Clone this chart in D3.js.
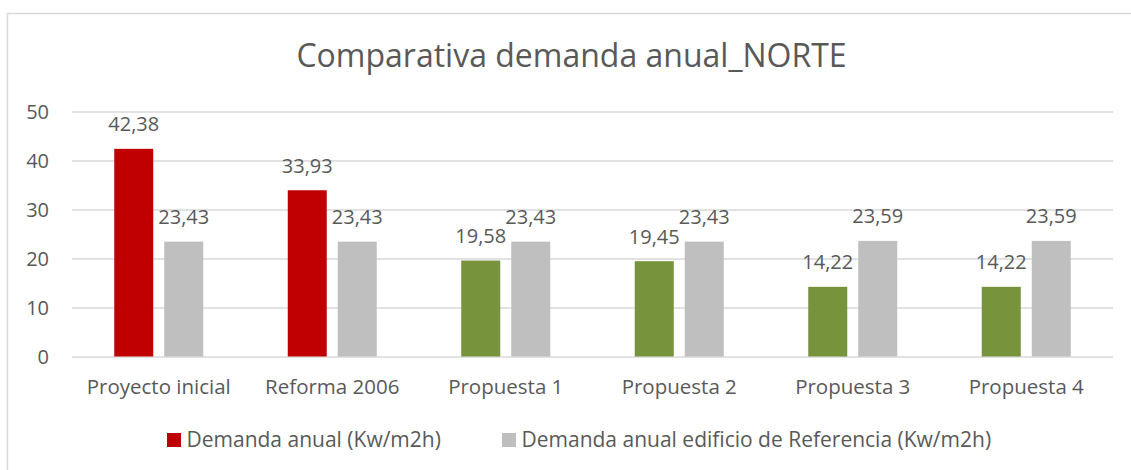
<!DOCTYPE html>
<html lang="es">
<head>
  <meta charset="UTF-8">
  <title>Comparativa demanda anual_NORTE</title>
  <style>
    body { margin: 0; background: #fff; }
    svg { display: block; }
    text { font-family: 'Open Sans', sans-serif; fill: #595959; }
  </style>
</head>
<body>
  <div id="chart"></div>

  <script src="https://d3js.org/d3.v7.min.js"></script>

  <script>
    // datos
    const categories = ['Proyecto inicial', 'Reforma 2006', 'Propuesta 1', 'Propuesta 2', 'Propuesta 3', 'Propuesta 4'];
    const demanda = [42.38, 33.93, 19.58, 19.45, 14.22, 14.22];
    const referencia = [23.43, 23.43, 23.43, 23.43, 23.59, 23.59];
    const seriesNames = ['Demanda anual (Kw/m2h)', 'Demanda anual edificio de Referencia (Kw/m2h)'];
    const yTicks = [0, 10, 20, 30, 40, 50];

    // colores
    const demandaColors = ['#C00000', '#C00000', '#77933C', '#77933C', '#77933C', '#77933C'];
    const refColor = '#BFBFBF';
    const legendColors = ['#C00000', refColor];

    const width = 1131, height = 470;
    const margin = { left: 72, right: 18, top: 111.5, bottom: 113.5 };

    const svg = d3.select('#chart').append('svg')
      .attr('width', width)
      .attr('height', height);

    // marco
    svg.append('rect')
      .attr('x', 7.5).attr('y', 13.5)
      .attr('width', 1140).attr('height', 480)
      .attr('fill', 'none')
      .attr('stroke', '#d9d9d9')
      .attr('stroke-width', 1.5);

    svg.append('text')
      .attr('x', 571.5).attr('y', 67)
      .attr('text-anchor', 'middle')
      .style('font-size', '32px')
      .text('Comparativa demanda anual_NORTE');

    const x0 = d3.scaleBand()
      .domain(categories)
      .range([margin.left, width - margin.right]);

    const x1 = d3.scaleBand()
      .domain([0, 1])
      .range([x0.bandwidth() / 2 - 44.5, x0.bandwidth() / 2 + 44.5])
      .paddingInner(0.22);

    const y = d3.scaleLinear()
      .domain([0, 50])
      .range([height - margin.bottom, margin.top]);

    const fmt = d3.formatLocale({ decimal: ',', thousands: '.', grouping: [3], currency: ['', '€'] }).format('.2f');

    // eje y + rejilla
    const yAxis = svg.append('g')
      .attr('transform', `translate(${margin.left},0)`)
      .call(d3.axisLeft(y).tickValues(yTicks).tickSize(-(width - margin.left - margin.right)).tickPadding(23).tickFormat(d3.format('d')));
    yAxis.select('.domain').remove();
    yAxis.selectAll('line').attr('stroke', '#d9d9d9').attr('stroke-width', 1.5);
    yAxis.selectAll('text')
      .style('font-size', '20px')
      .style('font-family', "'Open Sans', sans-serif")
      .attr('fill', '#595959')
      .attr('dy', '0.35em');

    // eje x
    const xAxis = svg.append('g')
      .attr('transform', `translate(0,${y(0)})`)
      .call(d3.axisBottom(x0).tickSize(0).tickPadding(23));
    xAxis.select('.domain').remove();
    xAxis.selectAll('text')
      .style('font-size', '20.5px')
      .style('font-family', "'Open Sans', sans-serif")
      .attr('fill', '#595959')
      .attr('dy', null)
      .attr('y', 37.5);

    const rows = categories.map((c, i) => ({ cat: c, vals: [demanda[i], referencia[i]], i }));

    const groups = svg.append('g').selectAll('g')
      .data(rows)
      .join('g')
      .attr('transform', d => `translate(${x0(d.cat)},0)`);

    const cells = groups.selectAll('g.cell')
      .data(d => d.vals.map((v, s) => ({ v, s, i: d.i })))
      .join('g')
      .attr('class', 'cell');

    cells.append('rect')
      .attr('x', d => x1(d.s))
      .attr('width', x1.bandwidth())
      .attr('y', d => y(d.v))
      .attr('height', d => y(0) - y(d.v))
      .attr('fill', d => d.s === 0 ? demandaColors[d.i] : refColor);

    cells.append('text')
      .attr('x', d => x1(d.s) + x1.bandwidth() / 2)
      .attr('y', d => y(d.v) - 17.5)
      .attr('text-anchor', 'middle')
      .style('font-size', '20px')
      .text(d => fmt(d.v));

    // leyenda
    const legendX = [167, 502];
    const legend = svg.append('g').selectAll('g')
      .data(seriesNames)
      .join('g')
      .attr('transform', (d, i) => `translate(${legendX[i]},433)`);

    legend.append('rect')
      .attr('width', 14).attr('height', 14)
      .attr('fill', (d, i) => legendColors[i]);

    legend.append('text')
      .attr('x', 19.5).attr('y', 14)
      .style('font-size', '21px')
      .text(d => d);
  </script>
</body>
</html>
